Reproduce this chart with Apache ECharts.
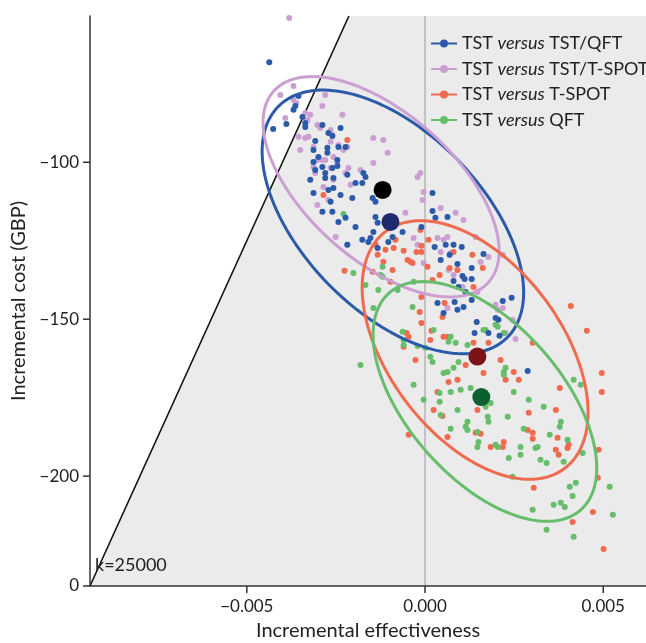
<!DOCTYPE html>
<html>
<head>
<meta charset="utf-8">
<script src="https://cdn.jsdelivr.net/npm/echarts@6/dist/echarts.min.js"></script>
<style>
  html, body { margin: 0; padding: 0; background: #fff; }
  #chart { width: 646px; height: 643px; }
</style>
</head>
<body>
<div id="chart"></div>
<script>
// comparisons, legend order
const names = ['TST/QFT', 'TST/T-SPOT', 'T-SPOT', 'QFT'];
const colors = ['#2a5aa8', '#cc9fd3', '#f06a50', '#66bd6b'];
const meanColors = ['#1f2b6c', '#000000', '#7c1417', '#0c5f2f'];

// axis ranges / threshold
const xMin = -0.0094, xMax = 0.0062;
const yMin = -235, yMax = -53.4;
const wtp = 25000;
const xTicks = [-0.005, 0, 0.005];
const yTicks = [yMin, -200, -150, -100];

// simulated points (incremental effectiveness, incremental cost)
const ptsTstQft = [
  [-0.00437,-68.1],[-0.00355,-78.9],[-0.00364,-82.1],[-0.00369,-83.3],[-0.00344,-85.6],[-0.00336,-88.8],
  [-0.00389,-87.8],[-0.00426,-89.4],[-0.00237,-89.1],[-0.00336,-87.5],[-0.00288,-88.1],[-0.00271,-90.7],
  [-0.00260,-91.6],[-0.00308,-93.2],[-0.00274,-95.4],[-0.00243,-95.1],[-0.00223,-95.1],[-0.00313,-96.1],
  [-0.00274,-97.0],[-0.00299,-98.3],[-0.00246,-99.3],[-0.00313,-99.9],[-0.00246,-101.2],[-0.00288,-101.5],
  [-0.00308,-102.5],[-0.00280,-103.4],[-0.00260,-101.8],[-0.00173,-103.4],[-0.00167,-104.7],[-0.00218,-104.0],
  [-0.00280,-105.0],[-0.00257,-105.0],[-0.00195,-106.6],[-0.00176,-106.6],[-0.00322,-105.6],[-0.00257,-108.2],
  [-0.00271,-108.8],[-0.00313,-109.8],[-0.00237,-110.4],[-0.00204,-111.4],[-0.00265,-112.6],[-0.00288,-115.8],
  [-0.00260,-115.8],[-0.00147,-111.4],[-0.00139,-112.6],[-0.00223,-117.7],[-0.00243,-119.0],[-0.00195,-120.6],
  [-0.00139,-117.4],[-0.00133,-119.3],[-0.00145,-122.2],[-0.00153,-124.1],[-0.00176,-124.7],[-0.00218,-126.3],
  [-0.00091,-123.8],[-0.00103,-125.4],[-0.00063,-122.2],[-0.00159,-125.4],[-0.00133,-127.3],
  [0.00021,-109.8],[0.00021,-115.5],[0.00029,-117.7],[0.00063,-117.4],[-0.00010,-120.6],[0.00027,-127.0],
  [0.00058,-126.3],[0.00080,-126.3],[0.00103,-127.0],[0.00044,-131.1],[0.00069,-129.5],[0.00091,-132.4],
  [0.00131,-133.7],[0.00164,-129.2],[0.00080,-137.8],[0.00105,-136.2],[0.00111,-137.2],[0.00131,-137.2],
  [0.00094,-139.7],[0.00114,-141.3],[0.00131,-143.9],[0.00035,-144.8],[0.00083,-144.5],[0.00108,-146.1],
  [0.00091,-147.0],[0.00218,-144.2],[0.00243,-143.2],[0.00198,-149.6],[0.00206,-150.2],[0.00145,-150.9],
  [0.00178,-154.4],[0.00209,-155.3],[0.00139,-154.4],[0.00052,-148.0],[0.00288,-166.5]
];
const ptsTstTspot = [
  [-0.00381,-54.0],[-0.00369,-75.7],[-0.00280,-78.6],[-0.00288,-82.1],[-0.00369,-80.2],[-0.00392,-85.9],
  [-0.00361,-81.1],[-0.00322,-84.9],[-0.00330,-86.5],[-0.00232,-84.9],[-0.00336,-84.3],[-0.00302,-88.1],
  [-0.00294,-89.1],[-0.00265,-89.7],[-0.00260,-91.3],[-0.00355,-91.9],[-0.00327,-91.9],[-0.00229,-96.1],
  [-0.00218,-95.1],[-0.00145,-92.3],[-0.00117,-92.9],[-0.00105,-97.0],[-0.00145,-100.2],[-0.00257,-98.3],
  [-0.00246,-100.2],[-0.00215,-101.8],[-0.00181,-102.5],[-0.00288,-99.3],[-0.00313,-101.5],[-0.00336,-92.3],
  [-0.00350,-96.1],[-0.00313,-95.1],[-0.00265,-93.5],[-0.00243,-94.5],[-0.00302,-99.3],[-0.00280,-99.3],
  [-0.00308,-103.4],[-0.00265,-101.8],[-0.00223,-103.4],[-0.00257,-105.6],[-0.00209,-107.2],[-0.00285,-107.9],
  [-0.00302,-113.6],[-0.00271,-112.0],[-0.00013,-103.4],[-0.00004,-109.5],[-0.00007,-112.0],[-0.00021,-104.7],
  [-0.00055,-116.1],[-0.00251,-123.8],[-0.00218,-126.3],[-0.00032,-124.1],[0.00086,-116.1],[0.00044,-114.6],
  [0.00108,-118.4],[0.00035,-124.1],[0.00063,-123.8],[0.00052,-124.7],[0.00072,-128.9],[0.00044,-128.6],
  [0.00066,-134.3],[0.00080,-135.9],[0.00156,-131.8],[0.00178,-130.2],[0.00218,-129.5],[0.00198,-145.4],
  [0.00204,-147.0],[0.00218,-146.4],[0.00063,-146.4],[-0.00004,-132.1],[-0.00021,-126.3],[0.00105,-139.7],
  [0.00147,-141.3],[0.00246,-150.2],[0.00254,-156.3],[0.00226,-154.4],[0.00142,-123.8],[-0.00406,-78.6]
];
const ptsTspot = [
  [-0.00218,-92.9],[-0.00285,-110.4],[-0.00226,-134.6],[-0.00147,-134.9],[-0.00139,-126.3],[-0.00111,-127.9],
  [-0.00088,-127.3],[-0.00133,-129.5],[-0.00117,-131.7],[-0.00049,-131.1],[-0.00041,-131.7],[-0.00010,-128.6],
  [-0.00010,-126.6],[-0.00024,-128.6],[-0.00060,-128.2],[0.00007,-133.3],[-0.00010,-142.9],[-0.00015,-147.7],
  [-0.00010,-151.2],[-0.00097,-138.1],[-0.00091,-134.3],[-0.00035,-132.1],[0.00021,-137.5],[0.00041,-135.9],
  [0.00069,-133.7],[0.00091,-134.3],[0.00080,-128.6],[0.00133,-129.5],[0.00162,-133.7],[0.00136,-139.7],
  [0.00055,-144.8],[0.00049,-149.3],[0.00063,-155.6],[0.00052,-155.6],[-0.00052,-154.4],[-0.00046,-155.6],
  [0.00018,-153.7],[0.00015,-156.6],[-0.00060,-158.8],[0.00136,-157.5],[0.00178,-157.5],[-0.00027,-163.0],
  [0.00114,-164.6],[0.00066,-170.0],[0.00091,-169.3],[0.00035,-173.2],[0.00164,-167.1],[0.00212,-163.0],
  [0.00249,-166.8],[0.00263,-169.3],[0.00226,-169.3],[0.00302,-157.5],[0.00409,-145.8],[0.00454,-153.7],
  [0.00496,-167.1],[0.00496,-173.2],[0.00378,-171.9],[0.00291,-179.8],[0.00367,-178.9],[0.00147,-178.9],
  [0.00024,-178.9],[0.00049,-180.8],[0.00156,-186.5],[0.00142,-186.2],[0.00063,-187.5],[0.00184,-190.7],
  [0.00218,-190.7],[0.00221,-189.1],[0.00288,-185.3],[0.00302,-186.2],[0.00302,-188.1],[0.00372,-187.8],
  [0.00403,-190.0],[0.00400,-191.0],[0.00367,-191.6],[0.00375,-193.2],[0.00487,-191.6],[0.00485,-200.5],
  [0.00305,-203.7],[0.00471,-211.4],[0.00414,-214.6],[0.00501,-223.2],[-0.00046,-186.8],[-0.00013,-121.6],
  [0.00010,-124.7],[-0.00083,-124.7]
];
const ptsQft = [
  [-0.00229,-116.5],[-0.00181,-164.6],[-0.00201,-135.3],[-0.00119,-133.3],[-0.00125,-135.9],[-0.00167,-139.1],
  [-0.00131,-140.7],[-0.00077,-140.7],[-0.00032,-138.1],[-0.00145,-146.4],[-0.00063,-154.0],[-0.00060,-158.2],
  [-0.00021,-158.5],[0.00001,-159.1],[0.00024,-153.4],[0.00015,-162.0],[0.00021,-163.6],[-0.00032,-170.9],
  [-0.00004,-175.7],[0.00041,-173.5],[0.00041,-176.3],[0.00072,-173.2],[0.00063,-166.8],[0.00052,-167.1],
  [0.00080,-165.5],[0.00094,-163.6],[0.00128,-171.9],[0.00184,-176.7],[0.00176,-181.1],[0.00178,-182.7],
  [0.00091,-178.9],[0.00072,-184.9],[0.00114,-184.3],[0.00119,-185.3],[0.00147,-185.9],[0.00147,-190.7],
  [0.00150,-189.1],[0.00198,-190.0],[0.00204,-190.7],[0.00235,-194.2],[0.00268,-190.7],[0.00277,-184.9],
  [0.00310,-191.0],[0.00316,-190.7],[0.00291,-175.7],[0.00333,-177.9],[0.00350,-186.8],[0.00381,-182.7],
  [0.00378,-184.3],[0.00400,-188.4],[0.00324,-194.8],[0.00341,-195.8],[0.00389,-195.4],[0.00417,-169.3],
  [0.00442,-192.6],[0.00423,-202.1],[0.00406,-203.4],[0.00414,-206.3],[0.00361,-209.1],[0.00381,-208.5],
  [0.00392,-209.8],[0.00302,-210.7],[0.00341,-217.1],[0.00518,-203.4],[0.00527,-212.3],[0.00417,-219.3],
  [0.00246,-200.2],[0.00221,-166.8],[0.00226,-165.5],[0.00249,-173.2],[0.00198,-151.8],[0.00170,-153.4],
  [0.00066,-157.2],[0.00086,-157.5],[0.00221,-167.7],[0.00170,-177.9],[0.00232,-181.1],[-0.00119,-136.5],
  [-0.00060,-156.6],[0.00100,-172.5],[0.00119,-182.7],[0.00072,-155.6],[0.00164,-153.4],[0.00204,-152.4],
  [0.00221,-154.4],[0.00119,-158.2],[-0.00035,-146.1],[0.00268,-193.2],[0.00437,-170.9],[0.00044,-180.5]
];
const allPts = [ptsTstQft, ptsTstTspot, ptsTspot, ptsQft];

// means
const meanPts = [[-0.00097, -119.0], [-0.00119, -108.8], [0.00147, -161.9], [0.00158, -174.8]];

// confidence ellipses: centre, sd of x, sd of y, correlation
const ellCentre = [[-0.000902, -119.0], [-0.001233, -107.8], [0.001405, -159.8], [0.00168, -176.2]];
const ellSdX = [0.003669, 0.003312, 0.003169, 0.003138];
const ellSdY = [42.0, 35.1, 41.2, 38.2];
const ellR = [-0.534, -0.583, -0.481, -0.555];

const minus = '\u2212';
const fontFam = 'Lato, "Noto Sans", sans-serif';
const legendIcon = 'path://M0,4.1H26V5.9H0Z M9,5A4,4,0,1,1,17,5A4,4,0,1,1,9,5Z';
const tickLen = 7;

const chart = echarts.init(document.getElementById('chart'));

const scatterOrder = [1, 2, 3, 0];
const series = [];

// shaded region right of the threshold line, x = 0 line, threshold line
series.push({
  type: 'custom',
  silent: true,
  clip: false,
  z: 0,
  data: [[0, yMin]],
  renderItem: (params, api) => {
    const poly = [[xMin, xMin * wtp], [yMax / wtp, yMax], [xMax, yMax], [xMax, yMin]].map(d => api.coord(d));
    const a = api.coord([xMin, xMin * wtp]);
    const b = api.coord([yMax / wtp, yMax]);
    const z0 = api.coord([0, yMin]);
    const z1 = api.coord([0, yMax]);
    const lab = api.coord([xMin, -228]);
    return {
      type: 'group',
      children: [
        { type: 'polygon', shape: { points: poly }, style: { fill: '#ebebeb' } },
        { type: 'line', shape: { x1: z0[0], y1: z0[1], x2: z1[0], y2: z1[1] }, style: { stroke: '#b4b4b4', lineWidth: 1.5 } },
        { type: 'line', shape: { x1: a[0], y1: a[1], x2: b[0], y2: b[1] }, style: { stroke: '#111', lineWidth: 1.6 } },
        { type: 'text', x: lab[0] + 5, y: lab[1] + 1, style: { text: 'k=25000', fontSize: 18, fill: '#222', fontFamily: fontFam, verticalAlign: 'middle' } }
      ]
    };
  }
});

scatterOrder.forEach(i => {
  series.push({
    name: names[i],
    type: 'scatter',
    data: allPts[i],
    symbolSize: 6,
    itemStyle: { color: colors[i], opacity: 1 },
    z: 2
  });
});

series.push({
  type: 'custom',
  silent: true,
  z: 3,
  data: ellCentre,
  renderItem: (params, api) => {
    const i = params.dataIndex;
    const cx = api.value(0), cy = api.value(1);
    const s = Math.sqrt(1 - ellR[i] * ellR[i]);
    const pts = [];
    for (let k = 0; k < 160; k++) {
      const t = k / 160 * Math.PI * 2;
      const dx = ellSdX[i] * Math.cos(t);
      const dy = ellSdY[i] * (ellR[i] * Math.cos(t) + s * Math.sin(t));
      pts.push(api.coord([cx + dx, cy + dy]));
    }
    return {
      type: 'polygon',
      shape: { points: pts },
      style: { fill: 'none', stroke: colors[i], lineWidth: 3 }
    };
  }
});

series.push({
  type: 'scatter',
  silent: true,
  z: 4,
  symbolSize: 18,
  itemStyle: { opacity: 1 },
  data: meanPts.map((p, i) => ({ value: p, itemStyle: { color: meanColors[i], opacity: 1 } }))
});

const option = {
  animation: false,
  backgroundColor: '#fff',
  textStyle: { fontFamily: fontFam },
  grid: { left: 90, right: 0, top: 16, bottom: 57, containLabel: false, outerBoundsMode: 'none' },
  legend: {
    orient: 'vertical',
    left: 426,
    top: 29.5,
    itemWidth: 26,
    itemHeight: 8,
    itemGap: 7.5,
    data: names.map(n => ({ name: n, icon: legendIcon })),
    formatter: n => '{a|TST }{b|versus}{a| ' + n + '}',
    textStyle: {
      color: '#222',
      fontSize: 18,
      lineHeight: 18,
      rich: {
        a: { fontSize: 18, color: '#222', fontFamily: fontFam, lineHeight: 18 },
        b: { fontSize: 18, color: '#222', fontStyle: 'italic', fontFamily: fontFam, lineHeight: 18 }
      }
    }
  },
  xAxis: {
    type: 'value',
    min: xMin,
    max: xMax,
    name: 'Incremental effectiveness',
    nameLocation: 'middle',
    nameGap: 35,
    nameTextStyle: { fontSize: 20, color: '#222' },
    splitLine: { show: false },
    axisLine: { onZero: false, lineStyle: { color: '#333', width: 1.5 } },
    axisTick: { show: false },
    axisLabel: {
      customValues: xTicks,
      fontSize: 17,
      color: '#222',
      margin: 12,
      formatter: v => (v < 0 ? minus : '') + Math.abs(v).toFixed(3)
    }
  },
  yAxis: {
    type: 'value',
    min: yMin,
    max: yMax,
    name: 'Incremental cost (GBP)',
    nameLocation: 'middle',
    nameGap: 58,
    nameRotate: 90,
    nameTextStyle: { fontSize: 20, color: '#222' },
    splitLine: { show: false },
    axisLine: { onZero: false, lineStyle: { color: '#333', width: 1.5 } },
    axisTick: { show: false },
    axisLabel: {
      customValues: yTicks,
      fontSize: 17,
      color: '#222',
      margin: 11,
      formatter: v => (v === yMin ? '0' : minus + Math.abs(v))
    }
  },
  series: series
};

chart.setOption(option);

// axis ticks, placed through the chart's own scales
const tickStyle = { stroke: '#333', lineWidth: 1.5 };
const tickEls = [];
yTicks.forEach(v => {
  const p = chart.convertToPixel({ gridIndex: 0 }, [xMin, v]);
  tickEls.push({ type: 'line', silent: true, z: 10, shape: { x1: p[0] - tickLen, y1: p[1], x2: p[0], y2: p[1] }, style: tickStyle });
});
xTicks.forEach(v => {
  const p = chart.convertToPixel({ gridIndex: 0 }, [v, yMin]);
  tickEls.push({ type: 'line', silent: true, z: 10, shape: { x1: p[0], y1: p[1], x2: p[0], y2: p[1] + tickLen }, style: tickStyle });
});
chart.setOption({ graphic: { elements: tickEls } });
</script>
</body>
</html>
